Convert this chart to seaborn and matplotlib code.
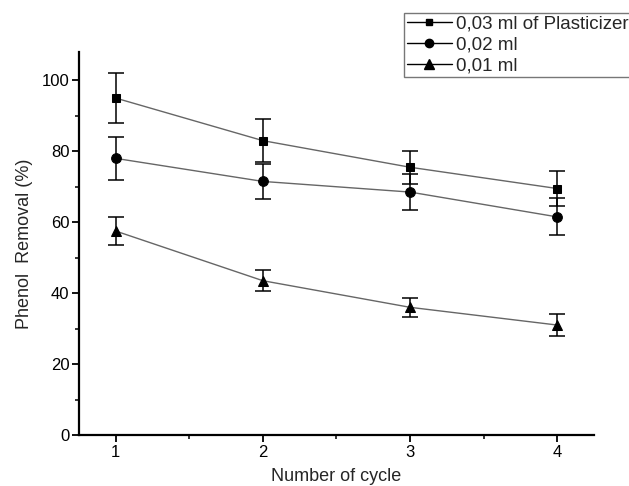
import pandas as pd
import seaborn as sns
import matplotlib.pyplot as plt
from matplotlib.lines import Line2D
from matplotlib.ticker import MultipleLocator

# values
cycles = [1, 2, 3, 4]
removal_003 = [95, 83, 75.5, 69.5]
err_003 = [7, 6, 4.7, 5]
removal_002 = [78, 71.5, 68.5, 61.5]
err_002 = [6, 5, 5, 5.2]
removal_001 = [57.5, 43.5, 36, 31]
err_001 = [4, 3, 2.7, 3]
labels = ["0,03 ml of Plasticizer", "0,02 ml", "0,01 ml"]

sns.set_style("ticks")
plt.rcParams["font.family"] = ["Liberation Sans", "DejaVu Sans"]

fig = plt.figure(figsize=(6.29, 4.86), dpi=100, facecolor="white")
ax = fig.add_axes([0.1256, 0.105, 0.8187, 0.788])

series = [
    (removal_003, err_003, "s", 6, labels[0]),
    (removal_002, err_002, "o", 7, labels[1]),
    (removal_001, err_001, "^", 7.5, labels[2]),
]
handles = []
for vals, errs, mk, ms, lab in series:
    df = pd.DataFrame({"cycle": cycles, "removal": vals})
    # error bars first so the markers sit on top
    ax.errorbar(cycles, vals, yerr=errs, fmt="none", ecolor="black",
                elinewidth=1.1, capsize=5.5, capthick=1.1, zorder=2)
    sns.lineplot(x="cycle", y="removal", data=df, ax=ax, color="#666666",
                 linewidth=1, marker=mk, markersize=ms,
                 markerfacecolor="black", markeredgecolor="black",
                 legend=False, zorder=3)
    handles.append(Line2D([], [], color="black", linewidth=1, marker=mk,
                          markersize=ms - 1, markerfacecolor="black",
                          markeredgecolor="black", label=lab))

ax.set_xlim(0.75, 4.25)
ax.set_ylim(0, 108)
ax.set_xticks(cycles)
ax.set_yticks([0, 20, 40, 60, 80, 100])
ax.xaxis.set_minor_locator(MultipleLocator(0.5))
ax.yaxis.set_minor_locator(MultipleLocator(10))
ax.tick_params(which="major", length=5, width=1.3, pad=2, labelsize=12,
               colors="black")
ax.tick_params(which="minor", length=3, width=1.3)
for s in ["left", "bottom"]:
    ax.spines[s].set_linewidth(1.6)
    ax.spines[s].set_color("black")
sns.despine(ax=ax)

ax.set_xlabel("Number of cycle", fontsize=13, labelpad=6)
ax.set_ylabel("Phenol  Removal (%)", fontsize=13, labelpad=6)

leg = fig.legend(handles=handles, loc="upper left",
                 bbox_to_anchor=(404 / 629, 1 - 13 / 486),
                 fontsize=13.5, frameon=True, fancybox=False,
                 handlelength=2.4, handletextpad=0.25, labelspacing=0.2,
                 borderpad=0.15, borderaxespad=0)
leg.get_frame().set_edgecolor("#555555")
leg.get_frame().set_linewidth(1)

fig.savefig("out.png", dpi=100)
